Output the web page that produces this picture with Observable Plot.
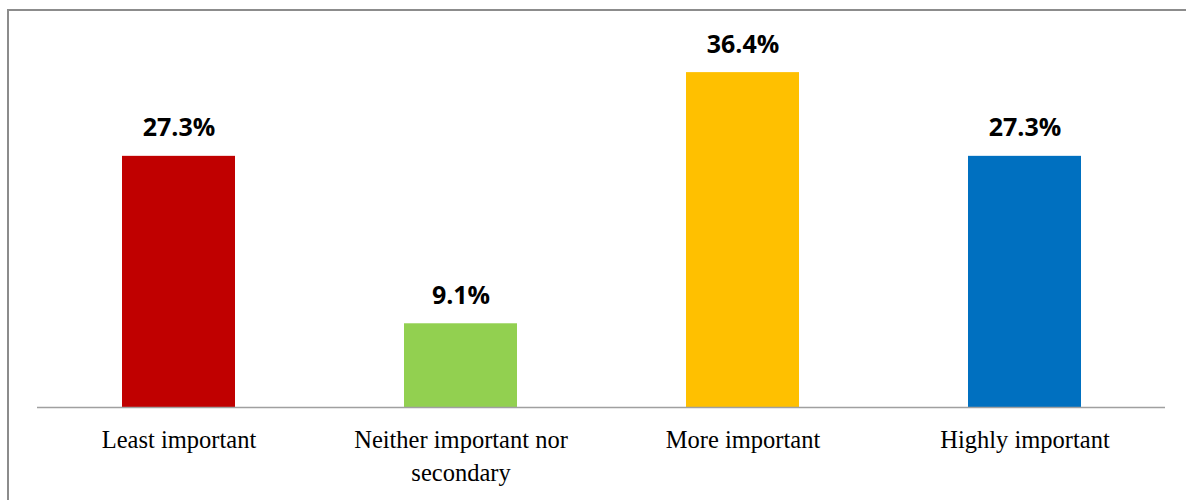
<!DOCTYPE html>
<html>
<head>
<meta charset="utf-8">
<script src="https://cdn.jsdelivr.net/npm/d3@7"></script>
<script src="https://cdn.jsdelivr.net/npm/@observablehq/plot@0.6"></script>
<style>
  html, body { margin: 0; padding: 0; background: #fff; overflow: hidden; }
  #chart {
    position: absolute;
    left: 7px;
    top: 9px;
    border-left: 2px solid #8c8c8c;
    border-top: 2px solid #8c8c8c;
    background: #fff;
  }
  #chart svg { display: block; }
</style>
</head>
<body>
<div id="chart"></div>
<script>
// Share of respondents by importance rating (%)
const categories = ["Least important", "Neither important nor secondary", "More important", "Highly important"];
const shares = [27.3, 9.1, 36.4, 27.3];
const barColors = ["#C00000", "#92D050", "#FFC000", "#0070C0"];
const tickLabels = ["Least important", "Neither important nor\nsecondary", "More important", "Highly important"];

const rows = categories.map((c, i) => ({category: c, share: shares[i], color: barColors[i]}));
const labelOf = new Map(categories.map((c, i) => [c, tickLabels[i]]));

const chart = Plot.plot({
  width: 1177,
  height: 489,
  marginLeft: 28,
  marginRight: 21,
  marginTop: 28,
  marginBottom: 93,
  style: {background: "#fff", overflow: "visible"},
  x: {domain: categories, paddingInner: 0.601, paddingOuter: 0.3005, axis: null},
  y: {domain: [0, 40], axis: null},
  marks: [
    Plot.barY(rows, {x: "category", y: "share", fill: "color"}),
    Plot.ruleY([0], {stroke: "#a0a0a0", strokeWidth: 1.6}),
    Plot.text(rows, {
      x: "category",
      y: "share",
      text: d => d.share.toFixed(1) + "%",
      lineAnchor: "bottom",
      dy: -20,
      fontSize: 25,
      fontWeight: "bold",
      fontFamily: "'Open Sans', sans-serif",
      fill: "#000"
    }),
    Plot.axisX({
      tickSize: 0,
      tickPadding: 17,
      tickFormat: d => labelOf.get(d),
      fontSize: 24.5,
      fontFamily: "'Liberation Serif', 'DejaVu Serif', serif",
      lineHeight: 1.36,
      fill: "#000",
      stroke: "#000",
      strokeWidth: 0.35,
      label: null
    })
  ]
});

document.getElementById("chart").appendChild(chart);
</script>
</body>
</html>
